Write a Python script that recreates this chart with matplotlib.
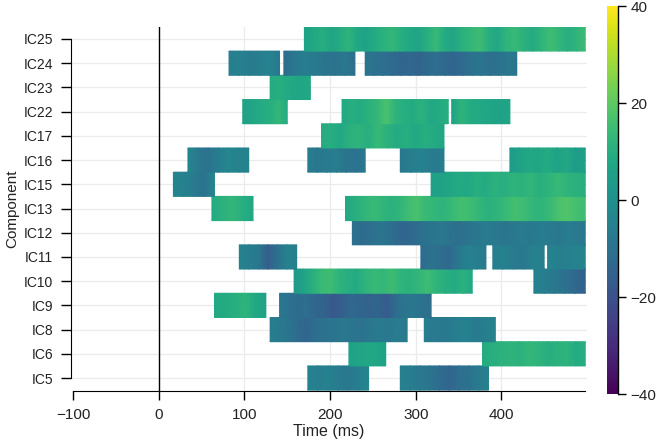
import matplotlib
matplotlib.use("Agg")
import matplotlib.pyplot as plt
import numpy as np

plt.rcParams['font.family'] = ['Liberation Sans', 'DejaVu Sans']

# components from bottom to top
components = ["IC5", "IC6", "IC8", "IC9", "IC10", "IC11", "IC12", "IC13",
              "IC15", "IC16", "IC17", "IC22", "IC23", "IC24", "IC25"]

# each segment: (start ms, end ms, amplitudes along the segment)
ic25 = [(170, 498, [6, 8, 10, 7, 9, 12, 8, 6, 9, 11, 13, 10, 8, 7, 10, 14, 9,
                    7, 11, 13, 15, 10, 8, 12, 14, 11, 9, 12, 15, 13, 10, 12, 15])]
ic24 = [(82, 141, [-6, -5, -7, -6, -4, -8]),
        (146, 229, [-12, -8, -6, -7, -9, -10, -8, -11]),
        (241, 418, [-9, -10, -11, -12, -14, -13, -15, -12, -11, -13, -14, -12,
                    -10, -9, -11, -10, -8, -9])]
ic23 = [(130, 177, [9, 10, 8, 7, 8])]
ic22 = [(98, 150, [6, 7, 9, 10, 13, 9]),
        (214, 338, [8, 10, 9, 11, 13, 17, 12, 10, 9, 11, 8, 9, 10]),
        (342, 410, [6, 12, 9, 8, 7, 6, 7])]
ic17 = [(190, 333, [9, 10, 8, 11, 12, 10, 14, 11, 9, 10, 8, 10, 9, 7])]
ic16 = [(34, 105, [-3, -8, -10, -6, -3, -5, -4]),
        (174, 241, [-6, -8, -7, -6, -9, -10, -8]),
        (282, 333, [-8, -6, -5, -7, -6]),
        (410, 498, [4, 6, 8, 7, 9, 6, 8, 4, 6])]
ic15 = [(17, 65, [-4, -5, -7, -10, -3]),
        (318, 498, [5, 6, 7, 9, 8, 10, 9, 11, 10, 12, 11, 13, 10, 12, 14, 12, 11, 10])]
ic13 = [(62, 110, [9, 11, 13, 10, 8]),
        (218, 498, [8, 10, 12, 14, 13, 11, 12, 15, 17, 14, 13, 12, 14, 16, 15, 13,
                    11, 12, 14, 16, 15, 13, 12, 14, 17, 18, 16, 15])]
ic12 = [(226, 498, [-10, -12, -11, -9, -10, -13, -14, -12, -10, -9, -8, -10, -11,
                    -9, -8, -7, -8, -9, -8, -7, -8, -6, -7, -8, -6, -7, -8])]
ic11 = [(94, 161, [-5, -6, -8, -16, -10, -5, -6]),
        (306, 382, [-12, -10, -11, -13, -8, -5, -6, -7]),
        (390, 450, [-6, -5, -7, -8, -5, -6]),
        (454, 498, [-4, -6, -5, -4])]
ic10 = [(158, 366, [3, 6, 10, 14, 15, 12, 10, 9, 12, 14, 13, 15, 12, 11, 13, 15,
                    12, 10, 9, 11, 8]),
        (438, 498, [-5, -6, -8, -10, -13, -16])]
ic9 = [(65, 125, [8, 9, 10, 12, 8, 6]),
       (141, 318, [-8, -10, -12, -11, -14, -15, -18, -16, -13, -14, -15, -14, -17,
                   -12, -9, -8, -10, -11])]
ic8 = [(130, 290, [-6, -7, -9, -12, -14, -11, -10, -9, -8, -9, -10, -8, -7, -8, -6, -7]),
       (310, 393, [-6, -7, -8, -6, -5, -7, -6, -4])]
ic6 = [(222, 265, [6, 7, 8, 6]),
       (378, 498, [9, 10, 11, 12, 11, 13, 12, 10, 11, 12, 9, 10])]
ic5 = [(174, 245, [-4, -6, -5, -7, -8, -6, -3]),
       (282, 385, [-5, -6, -8, -9, -12, -14, -11, -10, -7, -5])]

segments = {"IC5": ic5, "IC6": ic6, "IC8": ic8, "IC9": ic9, "IC10": ic10,
            "IC11": ic11, "IC12": ic12, "IC13": ic13, "IC15": ic15, "IC16": ic16,
            "IC17": ic17, "IC22": ic22, "IC23": ic23, "IC24": ic24, "IC25": ic25}

xticks = [-100, 0, 100, 200, 300, 400]
cticks = [-40, -20, 0, 20, 40]
txt = "#222222"

fig = plt.figure(figsize=(6.64, 4.48), dpi=100)
ax = fig.add_axes([0.107, 0.127, 0.777, 0.813])

# light grid behind the tiles
for i in range(len(components)):
    ax.axhline(i, color="#ebebeb", lw=0.9, zorder=0)
for t in xticks[2:]:
    ax.axvline(t, color="#ebebeb", lw=0.9, zorder=0)

mesh = None
for i, name in enumerate(components):
    for start, end, vals in segments[name]:
        xs = np.linspace(start, end, len(vals))
        X, Y = np.meshgrid(xs, [i - 0.5, i + 0.5])
        C = np.array([vals, vals], dtype=float)
        mesh = ax.pcolormesh(X, Y, C, cmap="viridis", vmin=-40, vmax=40,
                             shading="gouraud", zorder=2)

ax.axvline(0, color="black", lw=1, zorder=3)

ax.set_xlim(-102.5, 500)
ax.set_ylim(-0.54, 14.5)
ax.set_xticks(xticks)
ax.set_yticks(range(len(components)))
ax.set_yticklabels(components)
ax.spines[["top", "right"]].set_visible(False)
ax.spines["left"].set_bounds(0, len(components) - 1)
ax.spines["bottom"].set_bounds(-100, 498)
ax.tick_params(axis="x", length=6.5, width=1, labelsize=11, colors=txt, pad=6)
ax.tick_params(axis="y", length=7, width=1, labelsize=10, colors=txt, pad=6)
ax.tick_params(axis="both", color="black")
ax.set_xlabel("Time (ms)", fontsize=11.5, color=txt, labelpad=1)
ax.set_ylabel("Component", fontsize=11, color=txt, labelpad=3)

cax = fig.add_axes([0.914, 0.1205, 0.0166, 0.866])
cb = fig.colorbar(mesh, cax=cax, ticks=cticks)
cb.outline.set_visible(False)
cax.axvline(1, color="black", lw=1, clip_on=False)
cax.tick_params(length=6, width=1, labelsize=11, colors=txt, pad=3)
cax.tick_params(color="black")

fig.savefig("out.png", dpi=100)
